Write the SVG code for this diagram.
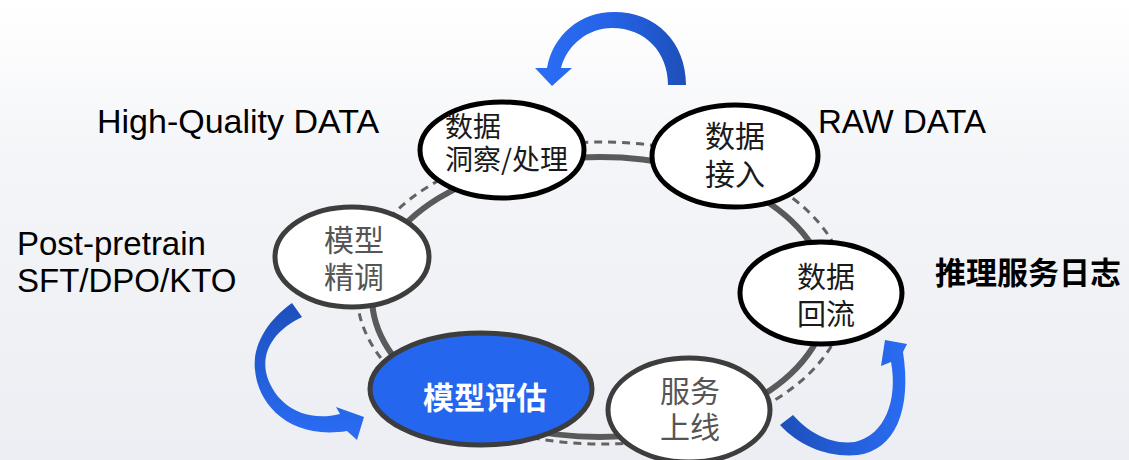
<svg xmlns="http://www.w3.org/2000/svg" width="1129" height="460" viewBox="0 0 1129 460">
<defs>
<linearGradient id="bg" x1="0" y1="0" x2="0" y2="1">
<stop offset="0" stop-color="#ffffff"/>
<stop offset="0.35" stop-color="#f4f5f8"/>
<stop offset="1" stop-color="#eceef3"/>
</linearGradient>
<linearGradient id="gTop" x1="535" y1="0" x2="686" y2="0" gradientUnits="userSpaceOnUse">
<stop offset="0" stop-color="#2a6df5"/>
<stop offset="0.5" stop-color="#2563e6"/>
<stop offset="1" stop-color="#1d4fb9"/>
</linearGradient>
<linearGradient id="gLeft" x1="0" y1="303" x2="0" y2="440" gradientUnits="userSpaceOnUse">
<stop offset="0" stop-color="#1d4fbb"/>
<stop offset="1" stop-color="#2a6df5"/>
</linearGradient>
<linearGradient id="gRight" x1="780" y1="0" x2="910" y2="0" gradientUnits="userSpaceOnUse">
<stop offset="0" stop-color="#1d4fbb"/>
<stop offset="1" stop-color="#2a6df5"/>
</linearGradient>
<style>
.ring{fill:none;stroke:#5a5a5a;stroke-width:6}
.dash{fill:none;stroke:#636363;stroke-width:3;stroke-dasharray:8 6}
.nb{fill:#ffffff;stroke:#000000;stroke-width:5}
.ng{fill:#ffffff;stroke:#3d3d3d;stroke-width:5}
.nblue{fill:#2466ee;stroke:#3d3d3d;stroke-width:5}
.cjk{font-family:"Noto Sans CJK SC","Noto Sans",sans-serif}
.t1{fill:#1a1a1a}
.tg{fill:#555555}
.lab{font-family:"Liberation Sans","Noto Sans",sans-serif;fill:#000000}
</style>
</defs>
<rect x="0" y="0" width="1129" height="460" fill="url(#bg)"/>

<g id="connectors">
<ellipse class="dash" cx="602" cy="293" rx="245" ry="151"/>
<ellipse class="ring" cx="600" cy="297" rx="228" ry="140"/>
<path id="arrow-top" fill="url(#gTop)" d="M686 85 C686 42 656 12 614 12 C580 12 553 35 547 68 L535 68 L552 86 L572 68 L561 68 C567 45 588 28 612 28 C645 28 668 52 668 85 Z"/>
<path id="arrow-left" fill="url(#gLeft)" d="M292 303 C268 320 252 345 255 370 C258 405 290 440 347 431 L357 440 L364 417 L336 407 L340 414 C300 424 272 400 266 372 C262 350 275 330 302 317 Z"/>
<path id="arrow-right" fill="url(#gRight)" d="M780 425 C800 447 830 458 858 455 C895 450 912 410 903 352 L907 344 L885 340 L881 366 L891 362 C898 400 885 435 855 442 C830 445 808 432 793 415 Z"/>
</g>

<g id="node-insight">
<ellipse class="nb" cx="502" cy="150" rx="82" ry="48"/>
<text class="cjk t1" font-size="28"><tspan x="445" y="137">数据</tspan><tspan x="445" y="170">洞察/处理</tspan></text>
</g>

<g id="node-ingest">
<ellipse class="nb" cx="735" cy="156" rx="83" ry="51"/>
<text class="cjk t1" font-size="30" text-anchor="middle"><tspan x="735" y="147">数据</tspan><tspan x="735" y="185">接入</tspan></text>
</g>

<g id="node-reflow">
<ellipse class="nb" cx="821" cy="293" rx="81" ry="51"/>
<text class="cjk t1" font-size="29" text-anchor="middle"><tspan x="826" y="288">数据</tspan><tspan x="826" y="325">回流</tspan></text>
</g>

<g id="node-finetune">
<ellipse class="ng" cx="352" cy="257" rx="77" ry="50"/>
<text class="cjk tg" font-size="30" text-anchor="middle"><tspan x="354" y="251">模型</tspan><tspan x="354" y="288">精调</tspan></text>
</g>

<g id="node-eval">
<ellipse class="nblue" cx="481" cy="389" rx="111" ry="56"/>
<text class="cjk" x="485" y="409" font-size="31" font-weight="700" fill="#ffffff" text-anchor="middle">模型评估</text>
</g>

<g id="node-serve">
<ellipse class="ng" cx="689" cy="410" rx="81" ry="52"/>
<text class="cjk tg" font-size="30" text-anchor="middle"><tspan x="690" y="402">服务</tspan><tspan x="690" y="438">上线</tspan></text>
</g>

<g id="labels">
<text class="lab" x="97" y="133" font-size="34">High-Quality DATA</text>
<text class="lab" font-size="33"><tspan x="17" y="255">Post-pretrain</tspan><tspan x="17" y="292">SFT/DPO/KTO</tspan></text>
<text class="lab" x="818" y="133" font-size="33">RAW DATA</text>
<text class="cjk" x="935" y="284" font-size="31" font-weight="700" fill="#000000">推理服务日志</text>
</g>
</svg>
